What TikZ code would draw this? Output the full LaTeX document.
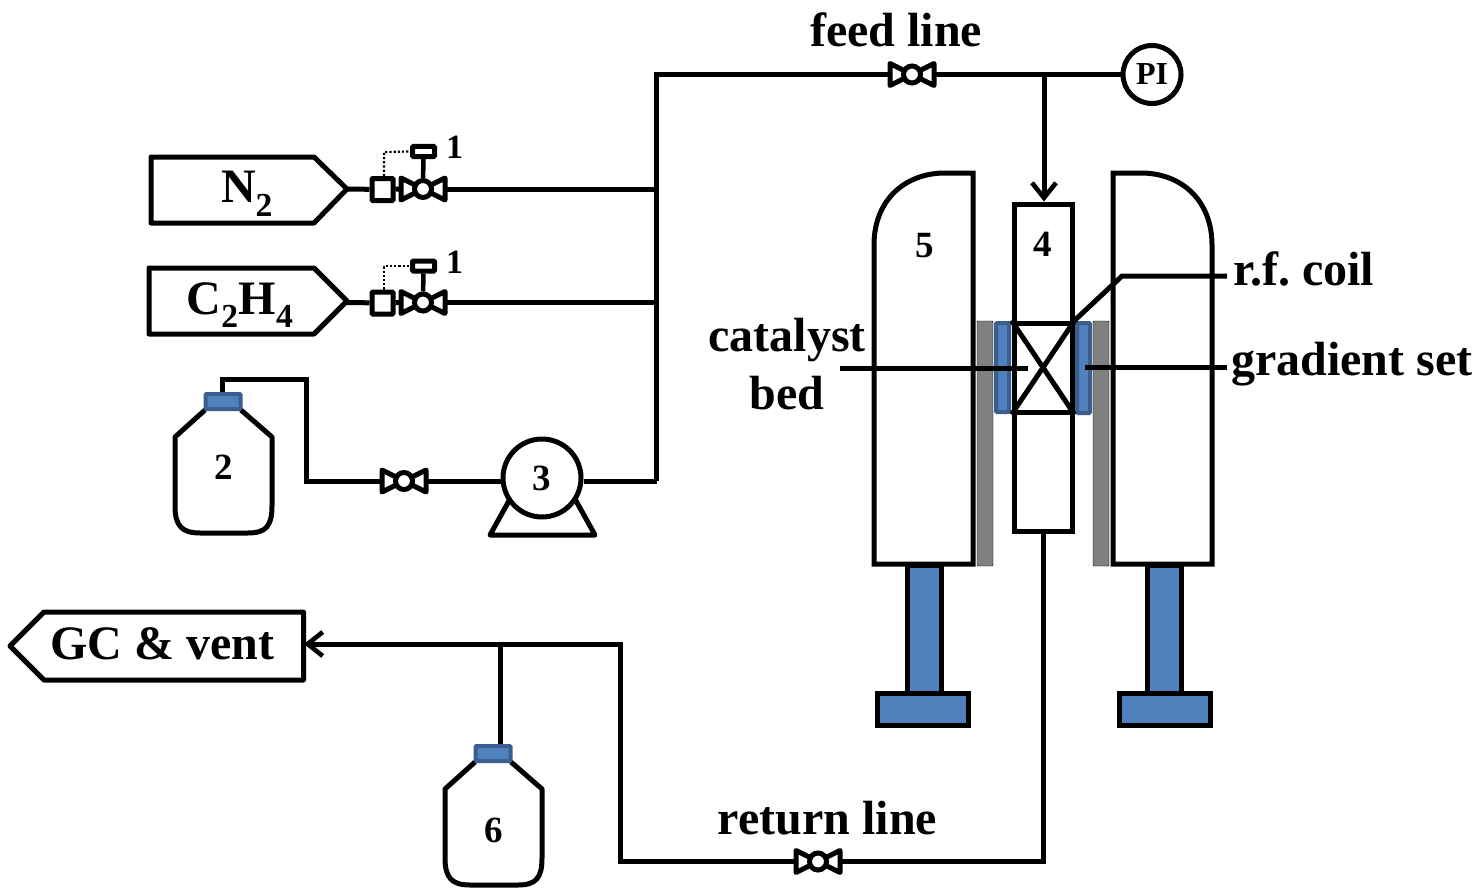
\documentclass[tikz,border=0pt]{standalone}
\usepackage{fontspec}
\setmainfont{Liberation Serif}
\usetikzlibrary{arrows.meta}
\definecolor{coilblue}{HTML}{4F81BD}
\definecolor{coiledge}{HTML}{3A5F8F}
\definecolor{shield}{HTML}{808080}
\tikzset{
  x=1pt,y=-1pt,
  pipe/.style={line width=5pt,black,line join=miter},
  thick box/.style={line width=5pt,black,line join=round,fill=white},
  flow/.style={pipe,-{Straight Barb[length=15pt,width=24pt,line width=4.6pt]}},
  biglabel/.style={font=\fontsize{48}{52}\selectfont\bfseries\frenchspacing,inner sep=0pt,align=center},
  numlabel/.style={font=\fontsize{37}{40}\selectfont\bfseries,inner sep=0pt},
  bluepart/.style={draw=coiledge,fill=coilblue,line width=4pt,rounded corners=1pt},
  bluefoot/.style={draw=black,fill=coilblue,line width=5pt},
  greyplate/.style={fill=shield,rounded corners=1pt},
  valvewing/.style={line width=5pt,black,line join=round,fill=white},
  valvehub/.style={circle,draw=black,fill=white,line width=5pt,inner sep=0pt,minimum size=#1},
  ctrlbox/.style={draw=black,line width=5pt,fill=white,rounded corners=1pt,inner sep=0pt,minimum width=22pt,minimum height=10pt},
  sensebox/.style={draw=black,line width=5pt,fill=white,rounded corners=1pt,inner sep=0pt,minimum width=21pt,minimum height=22pt},
  sensor/.style={line width=2.2pt,black,dotted},
}
\newcommand{\myvalve}[3]{%
  \draw[valvewing] (#2-22,#3-11) -- (#2,#3) -- (#2-22,#3+11) -- cycle;
  \draw[valvewing] (#2+22,#3-11) -- (#2,#3) -- (#2+22,#3+11) -- cycle;
  \node[valvehub=17pt] (#1) at (#2,#3) {};
  \coordinate (#1-l) at (#2-22,#3);
  \coordinate (#1-r) at (#2+22,#3);
}
\newcommand{\mybottle}[3]{% name, x offset, y offset
  \begin{scope}[shift={(#2,#3)}]
    \draw[thick box,rounded corners=0pt] (205,410) -- (175,437) -- (175,506)
      .. controls (175,526) and (182,533) .. (200,533) -- (248,533)
      .. controls (266,533) and (272,526) .. (272,506) -- (272,437) -- (241,410);
    \node[bluepart,minimum width=35pt,minimum height=15pt,inner sep=0pt] (#1) at (223,401.5) {};
  \end{scope}
}
\begin{document}
\begin{tikzpicture}
\useasboundingbox (0,0) rectangle (1480,888);
\fill[white] (0,0) rectangle (1480,888);

% source boxes
\node[biglabel] (n2) at (247,194) {N\textsubscript{2}};
\node[biglabel] (c2h4) at (240,305) {C\textsubscript{2}H\textsubscript{4}};
\draw[thick box,fill=none] (151,157) -- (314,157) -- (347,189) -- (314,223) -- (151,223) -- cycle;
\draw[thick box,fill=none] (149,268) -- (314,268) -- (347,301) -- (314,334) -- (149,334) -- cycle;
\coordinate (n2tip) at (347,189);
\coordinate (c2tip) at (347,302.5);

% manifold points
\coordinate (topleft) at (656.5,74.5);
\coordinate (j1) at (656.5,189);
\coordinate (j2) at (656.5,302.5);
\coordinate (j3) at (656.5,481);
\coordinate (tee) at (1044,74.5);

% main pipes
\draw[pipe] (j3) -- (topleft) -- (1120,74.5);

% mass flow controller 1
\node[sensebox] (s1) at (382.5,189.5) {};
\draw[pipe] (n2tip) -- (s1);
\myvalve{v1}{423}{189}
\draw[pipe] (s1) -- (v1-l);
\draw[pipe] (v1-r) -- (j1);
\node[ctrlbox] (c1) at (423.5,151.5) {};
\draw[line width=4.5pt] (c1) -- (v1);
\coordinate (d1) at (384,152);
\draw[sensor] (s1.north -| d1) -- (d1) -- (c1.west);
\node[numlabel,font=\fontsize{34}{36}\selectfont\bfseries] (l1) at (454.5,147) {1};

% mass flow controller 2
\node[sensebox] (s2) at (382.5,303) {};
\draw[pipe] (c2tip) -- (s2);
\myvalve{v2}{423}{302.5}
\draw[pipe] (s2) -- (v2-l);
\draw[pipe] (v2-r) -- (j2);
\node[ctrlbox] (c2) at (423.5,266) {};
\draw[line width=4.5pt] (c2) -- (v2);
\coordinate (d2) at (384,266);
\draw[sensor] (s2.north -| d2) -- (d2) -- (c2.west);
\node[numlabel,font=\fontsize{34}{36}\selectfont\bfseries] (l2) at (454.5,262) {1};

% bottle 2, pump
\coordinate (b2up) at (222,379);
\coordinate (b2r) at (306.5,379);
\coordinate (b2d) at (306.5,481);
\myvalve{v3}{404}{481}
\mybottle{cap2}{0}{0}
\node[numlabel] (num2) at (223.5,467) {2};
\draw[pipe] (cap2.north -| b2up) -- (b2up) -- (b2r) -- (b2d) -- (v3-l);
\draw[thick box] (490,535) -- (595,535) -- (570,490) -- (515,490) -- cycle;
\node[circle,draw=black,fill=white,line width=5pt,minimum size=78pt,inner sep=0pt,font=\fontsize{37}{40}\selectfont\bfseries] (pump) at (542,478) {3};
\draw[pipe] (v3-r) -- (pump.west |- v3-r);
\draw[pipe] (pump.east |- j3) -- (j3);

% feed line
\myvalve{v4}{912}{74.5}
\node[biglabel] (feed) at (896,29.5) {feed line};
\node[circle,draw=black,fill=white,line width=5pt,minimum size=58pt,inner sep=0pt,font=\fontsize{32}{36}\selectfont\bfseries] (pi) at (1152,74.5) {\raisebox{-2pt}{PI}};
\draw[pipe] (1120,74.5) -- (pi);

% plates
\draw[greyplate] (977,321) rectangle (993,566);
\draw[greyplate] (1093,321) rectangle (1109,566);
% magnet halves
\draw[thick box,line join=miter] (973,173) -- (945,173) .. controls (905,173) and (874,200) .. (874,245) -- (874,564) -- (973,564) -- cycle;
\draw[thick box,line join=miter] (1113,173) -- (1141,173) .. controls (1181,173) and (1212,200) .. (1212,245) -- (1212,564) -- (1113,564) -- cycle;
\node[numlabel] (num5) at (924.5,246) {5};
% stands
\draw[bluefoot] (907,565) rectangle (941,693);
\draw[bluefoot] (877,693) rectangle (968,725);
\draw[bluefoot] (1147,565) rectangle (1181,693);
\draw[bluefoot] (1119,693) rectangle (1210,725);

% coils
\draw[bluepart] (996,323) rectangle (1009,412);
\draw[bluepart] (1077,323) rectangle (1090,413);

% reactor
\node[draw=black,line width=5pt,fill=white,minimum width=58pt,minimum height=327pt,inner sep=0pt] (reactor) at (1043,367.5) {};
\node[numlabel] (num4) at (1043,244.5) {4};
\node[draw=black,line width=5pt,minimum width=58pt,minimum height=89pt,inner sep=0pt] (bed) at (1043,367.5) {};
\draw[line width=5pt] (bed.north west) -- (bed.south east);
\draw[line width=5pt] (bed.south west) -- (bed.north east);
\draw[flow] (tee) -- (reactor.north -| tee);

% callouts
\coordinate (rfk) at (1122,276);
\coordinate (rfe) at (1227,276);
\coordinate (gre) at (1227,367);
\coordinate (gra) at (1085,367);
\coordinate (cae) at (840,368);
\coordinate (caa) at (1028,368);
\draw[pipe] (bed.north east) -- (rfk) -- (rfe);
\draw[pipe] (gra) -- (gre);
\draw[pipe] (cae) -- (caa);
\node[biglabel,anchor=west] (rf) at (1233,269) {r.f. coil};
\node[biglabel,anchor=west] (grad) at (1231,364) {gradient set};
\node[biglabel] (cat) at (787,364.5) {catalyst\\[6pt]bed};

% return line
\coordinate (rb) at (1043,861.5);
\coordinate (rl) at (620,861.5);
\coordinate (ru) at (620,644);
\coordinate (tap) at (500,644);
\myvalve{v5}{818}{861.5}
\node[biglabel] (ret) at (827.5,818) {return line};
\draw[thick box,fill=none] (303.5,612) -- (44,612) -- (10,646) -- (44,680) -- (303.5,680) -- cycle;
\node[biglabel] (gc) at (162,643.5) {GC \& vent};
\draw[pipe] (reactor.south -| rb) -- (rb) -- (v5-r);
\draw[pipe] (v5-l) -- (rl) -- (ru) -- (tap);
\draw[flow] (tap) -- (304,644);
\mybottle{cap6}{270}{352}
\node[numlabel] (num6) at (493.5,830) {6};
\draw[pipe] (cap6.north -| tap) -- (tap);
\end{tikzpicture}
\end{document}
